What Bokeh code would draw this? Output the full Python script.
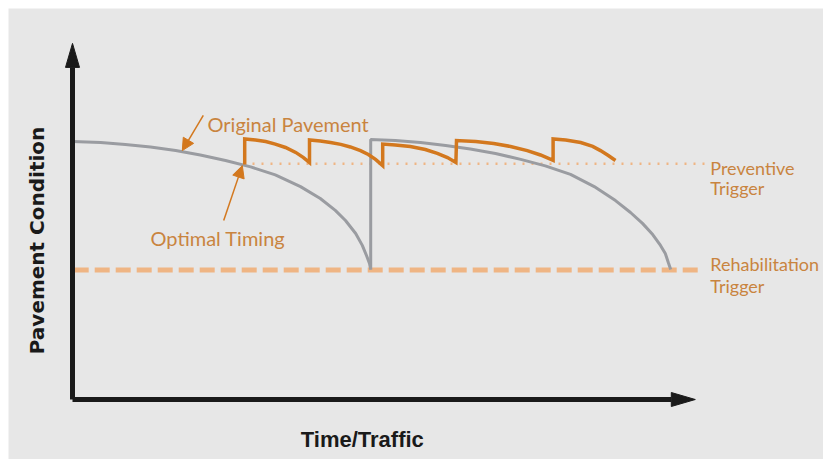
import math
from bokeh.plotting import figure
from bokeh.models import Range1d, Arrow, NormalHead
from bokeh.core.properties import value
from bokeh.embed import file_html
from bokeh.resources import INLINE

# ---- data (time/traffic units, pavement condition units) ----
orig_t = [0, 4.7, 8.8, 13, 17.2, 21.3, 25.5, 29.7, 33.8, 38, 41.3, 43.8, 45.5, 47.2,
          48.3, 49, 49.5, 49.7]
orig_c = [99.6, 99.2, 98.5, 97.5, 96.1, 94.4, 92.3, 89.8, 86.7, 82.2, 77.6, 73.0, 69.1,
          64.1, 59.5, 55.6, 52.5, 50.2]

rehab_t = [49.7, 49.7, 53.8, 58, 62.2, 66.3, 70.5, 74.7, 78.8, 83, 87.2, 90.5, 93, 95,
           96.7, 98, 98.8, 99.3, 99.7]
rehab_c = [50.2, 100.4, 100, 99.2, 98.1, 96.7, 95.0, 92.7, 90.2, 86.9, 81.9, 76.8, 72.2,
           68.0, 63.7, 59.5, 56.4, 52.9, 50.2]

prev_t = [28.7, 28.7, 30.5, 32.2, 33.8, 35.5, 37.2, 38.5, 39.5,
          39.5, 41.3, 43, 44.7, 46.3, 48, 49.3, 50.5, 51.7,
          51.7, 53.8, 56.3, 58.8, 60.8, 62.5, 63.9,
          64.0, 67.2, 70.2, 73, 75.8, 78, 80.1,
          80.1, 82.2, 84.7, 86.7, 88, 89.3, 90.5]
prev_c = [90.7, 100.6, 100.2, 99.6, 98.6, 97.3, 95.4, 93.4, 91.5,
          100.2, 99.8, 99.2, 98.5, 97.5, 96.1, 94.6, 92.7, 90.3,
          98.6, 98.3, 97.7, 96.5, 95.0, 93.4, 91.5,
          100.0, 99.6, 98.8, 97.7, 96.1, 94.4, 92.3,
          100.6, 100.2, 99.2, 97.7, 96.1, 94.2, 92.3]

preventive_trigger = 91
preventive_span = [30, 105.5]
rehab_trigger = 50
rehab_span = [0.2, 104.7]

axis_t_end = 103.8
axis_c_end = 137.5

callout_x = [22.5, 13]
callout_y = [106.2, 62.5]
callout_text = ["Original Pavement", "Optimal Timing"]

trigger_x = [106.3, 106.3, 106.3, 106.3]
trigger_y = [89.2, 81.5, 52.5, 44.0]
trigger_text = ["Preventive", "Trigger", "Rehabilitation", "Trigger"]

# ---- styling ----
BG = "#e7e7e7"
GRAY = "#9a9ca1"
ORANGE = "#d3781e"
TXT_OR = "#c9843f"
LIGHT_OR = "#efb584"
AXIS = "#1a1a1a"
PX_T = 6.0     # px per time unit
PX_C = 2.59    # px per condition unit

W, H = 823, 459
FW, FH = W - 8, H - 8
p = figure(width=W, height=H,
           x_range=Range1d(-64 / PX_T, (FW - 64) / PX_T),
           y_range=Range1d(-(FH - 391) / PX_C, 391 / PX_C),
           output_backend="svg", toolbar_location=None,
           x_axis_location=None, y_axis_location=None,
           min_border_left=8, min_border_top=8, min_border_right=0, min_border_bottom=0,
           background_fill_color=BG, border_fill_color="white",
           outline_line_color=None)
p.grid.visible = False

# trigger lines
p.line(rehab_span, [rehab_trigger] * 2, line_color=LIGHT_OR, line_width=5, line_dash="15 6")
p.line(preventive_span, [preventive_trigger] * 2, line_color=LIGHT_OR, line_width=2.5,
       line_dash="2 7")

# pavement curves
p.line(orig_t, orig_c, line_color=GRAY, line_width=3)
p.line(rehab_t, rehab_c, line_color=GRAY, line_width=3)
p.line(prev_t, prev_c, line_color=ORANGE, line_width=3.5, line_join="miter")

# axes (lines + heads)
head_len_px, head_half_px = 24, 7
p.line([0, 0], [0, axis_c_end - head_len_px / PX_C], line_color=AXIS, line_width=5)
p.line([0, axis_t_end - head_len_px / PX_T], [0, 0], line_color=AXIS, line_width=5)
p.patch([-head_half_px / PX_T, 0, head_half_px / PX_T],
        [axis_c_end - head_len_px / PX_C, axis_c_end, axis_c_end - head_len_px / PX_C],
        fill_color=AXIS, line_color=AXIS)
p.patch([axis_t_end - head_len_px / PX_T, axis_t_end, axis_t_end - head_len_px / PX_T],
        [head_half_px / PX_C, 0, -head_half_px / PX_C],
        fill_color=AXIS, line_color=AXIS)

# callout arrows
p.add_layout(Arrow(end=NormalHead(size=12, fill_color=ORANGE, line_color=ORANGE),
                   x_start=21.8, y_start=109.7, x_end=18.3, y_end=96.1,
                   line_color=ORANGE, line_width=1.5))
p.add_layout(Arrow(end=NormalHead(size=12, fill_color=ORANGE, line_color=ORANGE),
                   x_start=25.2, y_start=69.1, x_end=28.3, y_end=90.3,
                   line_color=ORANGE, line_width=1.5))

# labels
p.text(x=callout_x, y=callout_y, text=callout_text, text_font=value("Lato"),
       text_font_size="20px", text_color=TXT_OR, text_align="left",
       text_baseline="alphabetic")
p.text(x=trigger_x, y=trigger_y, text=trigger_text, text_font=value("Lato"),
       text_font_size="18px", text_color=TXT_OR, text_align="left",
       text_baseline="alphabetic")

p.text(x=[48.3], y=[-15.4], text=["Time/Traffic"], text_font=value("Liberation Sans"),
       text_font_style="bold", text_font_size="22px", text_color=AXIS,
       text_align="center", text_baseline="alphabetic")
p.text(x=[-6], y=[61.4], text=["Pavement Condition"], text_font=value("DejaVu Sans"),
       text_font_style="bold", text_font_size="20px", text_color=AXIS,
       text_align="center", text_baseline="middle", angle=math.pi / 2)

open("out.html", "w").write(file_html(p, INLINE))
